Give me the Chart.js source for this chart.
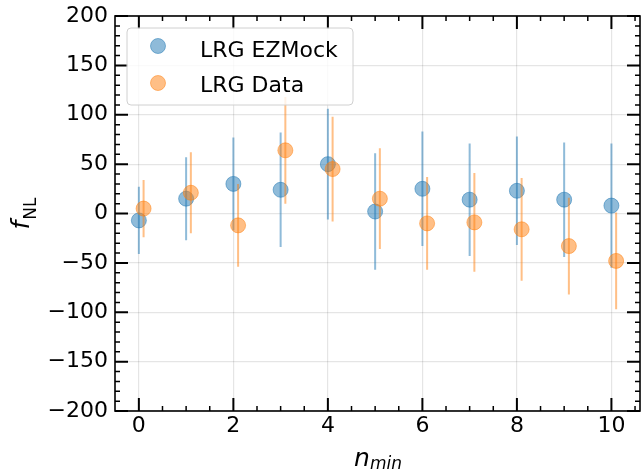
<!DOCTYPE html>
<html>
<head>
<meta charset="utf-8">
<script src="https://cdn.jsdelivr.net/npm/chart.js@4"></script>
<style>
html, body { margin: 0; padding: 0; background: #fff; }
</style>
</head>
<body>
<canvas id="chart" width="642" height="472"></canvas>
<script>
// values
var nMin = [0, 1, 2, 3, 4, 5, 6, 7, 8, 9, 10];
var nMinShifted = [0.1, 1.1, 2.1, 3.1, 4.1, 5.1, 6.1, 7.1, 8.1, 9.1, 10.1];
var mockFnl = [-7, 15, 30, 24, 50, 2, 25, 14, 23, 14, 8];
var mockErr = [34, 42, 47, 58, 56, 59, 58, 57, 55, 58, 63];
var dataFnl = [5, 21, -12, 64, 45, 15, -10, -9, -16, -33, -48];
var dataErr = [29, 41, 42, 54, 53, 51, 47, 50, 52, 49, 49];
var xTicks = [0, 2, 4, 6, 8, 10];
var yTicks = [-200, -150, -100, -50, 0, 50, 100, 150, 200];

var blue = 'rgba(31, 119, 180, 0.5)';
var orange = 'rgba(255, 127, 14, 0.5)';
var font = 'DejaVu Sans';

function points(xs, ys) {
    return xs.map(function (x, i) { return { x: x, y: ys[i] }; });
}

// each bar is two points followed by a gap
function bars(xs, ys, errs) {
    var out = [];
    xs.forEach(function (x, i) {
        out.push({ x: x, y: ys[i] - errs[i] });
        out.push({ x: x, y: ys[i] + errs[i] });
        out.push({ x: x, y: null });
    });
    return out;
}

function minusLabel(v) {
    return v < 0 ? '\u2212' + Math.abs(v) : String(v);
}

function noPadding(scale) {
    scale.paddingLeft = 0;
    scale.paddingRight = 0;
    scale.paddingTop = 0;
    scale.paddingBottom = 0;
}

var framePlugin = {
    id: 'frame',
    afterDraw: function (chart) {
        var ctx = chart.ctx;
        var a = chart.chartArea;
        var xs = chart.scales.x, ys = chart.scales.y;
        ctx.save();
        ctx.strokeStyle = '#000';

        // inward ticks on all four sides
        function tickX(v, len, w) {
            var px = xs.getPixelForValue(v);
            ctx.lineWidth = w;
            ctx.beginPath();
            ctx.moveTo(px, a.bottom); ctx.lineTo(px, a.bottom - len);
            ctx.moveTo(px, a.top); ctx.lineTo(px, a.top + len);
            ctx.stroke();
        }
        function tickY(v, len, w) {
            var py = ys.getPixelForValue(v);
            ctx.lineWidth = w;
            ctx.beginPath();
            ctx.moveTo(a.left, py); ctx.lineTo(a.left + len, py);
            ctx.moveTo(a.right, py); ctx.lineTo(a.right - len, py);
            ctx.stroke();
        }
        for (var m = 0; m <= 10.5; m += 0.5) {
            if (m % 2 === 0) tickX(m, 13, 2); else tickX(m, 5, 1.5);
        }
        for (var n = -200; n <= 200; n += 10) {
            if (n % 50 === 0) tickY(n, 13, 2); else tickY(n, 5, 1.5);
        }

        // spines
        ctx.lineWidth = 1.6;
        ctx.strokeRect(a.left, a.top, a.right - a.left, a.bottom - a.top);

        // legend
        ctx.fillStyle = 'rgba(255,255,255,0.8)';
        ctx.strokeStyle = '#d0d0d0';
        ctx.lineWidth = 1;
        ctx.beginPath();
        ctx.roundRect(127, 28, 226, 77, 4);
        ctx.fill();
        ctx.stroke();
        var entries = chart.data.datasets.filter(function (d) { return d.inLegend; });
        entries.forEach(function (d, i) {
            var cy = 46 + i * 37;
            ctx.fillStyle = d.backgroundColor;
            ctx.strokeStyle = d.borderColor;
            ctx.lineWidth = 1;
            ctx.beginPath();
            ctx.arc(158, cy, 7.5, 0, Math.PI * 2);
            ctx.fill();
            ctx.stroke();
            ctx.fillStyle = '#000';
            ctx.font = '22px "' + font + '"';
            ctx.textBaseline = 'alphabetic';
            ctx.textAlign = 'left';
            ctx.fillText(d.label, 200, 57 + i * 35);
        });

        // axis titles with subscripts
        ctx.fillStyle = '#000';
        ctx.textBaseline = 'alphabetic';
        ctx.textAlign = 'left';
        ctx.font = 'italic 25px "' + font + '"';
        var wn = ctx.measureText('n').width;
        ctx.font = 'italic 17px "' + font + '"';
        var wmin = ctx.measureText('min').width;
        var x0 = 378 - (wn + wmin) / 2;
        ctx.font = 'italic 25px "' + font + '"';
        ctx.fillText('n', x0, 466);
        ctx.font = 'italic 17px "' + font + '"';
        ctx.fillText('min', x0 + wn, 469);

        ctx.translate(29, 214);
        ctx.rotate(-Math.PI / 2);
        ctx.font = 'italic 25px "' + font + '"';
        var wf = ctx.measureText('f').width;
        ctx.font = '17px "' + font + '"';
        var wnl = ctx.measureText('NL').width;
        var s = -(wf + wnl) / 2;
        ctx.font = 'italic 25px "' + font + '"';
        ctx.fillText('f', s, 0);
        ctx.font = '17px "' + font + '"';
        ctx.fillText('NL', s + wf + 1, 7);
        ctx.restore();
    }
};

new Chart(document.getElementById('chart'), {
    type: 'scatter',
    data: {
        datasets: [{
            label: 'mock bars',
            data: bars(nMin, mockFnl, mockErr),
            showLine: true,
            spanGaps: false,
            borderColor: blue,
            borderWidth: 2,
            pointRadius: 0,
            order: 4
        }, {
            label: 'LRG EZMock',
            inLegend: true,
            data: points(nMin, mockFnl),
            backgroundColor: blue,
            borderColor: blue,
            borderWidth: 1,
            pointRadius: 7.5,
            order: 3
        }, {
            label: 'data bars',
            data: bars(nMinShifted, dataFnl, dataErr),
            showLine: true,
            spanGaps: false,
            borderColor: orange,
            borderWidth: 2,
            pointRadius: 0,
            order: 2
        }, {
            label: 'LRG Data',
            inLegend: true,
            data: points(nMinShifted, dataFnl),
            backgroundColor: orange,
            borderColor: orange,
            borderWidth: 1,
            pointRadius: 7.5,
            order: 1
        }]
    },
    options: {
        responsive: false,
        animation: false,
        layout: { autoPadding: false, padding: { left: 0, right: 2, top: 16, bottom: 0 } },
        plugins: {
            legend: { display: false },
            tooltip: { enabled: false }
        },
        scales: {
            x: {
                type: 'linear',
                min: -0.505,
                max: 10.605,
                afterBuildTicks: function (scale) {
                    scale.ticks = xTicks.map(function (v) { return { value: v }; });
                },
                afterFit: function (scale) { scale.height = 61; noPadding(scale); },
                grid: { color: 'rgba(0,0,0,0.1)', lineWidth: 1.2, drawTicks: false },
                border: { display: false },
                ticks: {
                    color: '#000',
                    padding: 2,
                    maxRotation: 0,
                    font: { family: font, size: 22 },
                    callback: minusLabel
                }
            },
            y: {
                type: 'linear',
                min: -200,
                max: 200,
                afterBuildTicks: function (scale) {
                    scale.ticks = yTicks.map(function (v) { return { value: v }; });
                },
                afterFit: function (scale) { scale.width = 115; noPadding(scale); },
                grid: { color: 'rgba(0,0,0,0.1)', lineWidth: 1.2, drawTicks: false },
                border: { display: false },
                ticks: {
                    color: '#000',
                    padding: 7,
                    font: { family: font, size: 22 },
                    callback: minusLabel
                }
            }
        }
    },
    plugins: [framePlugin]
});
</script>
</body>
</html>
